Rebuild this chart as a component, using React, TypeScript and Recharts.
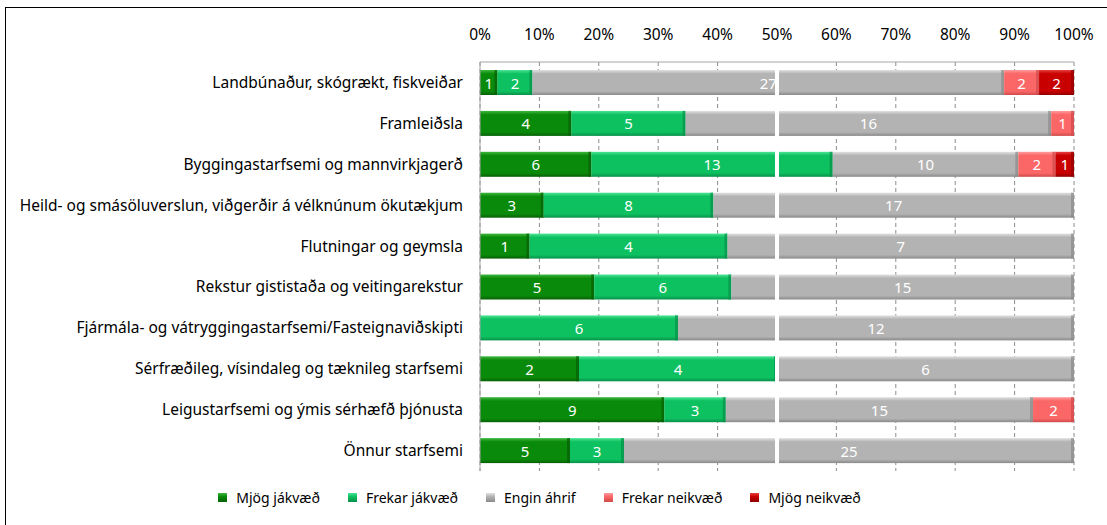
import React from 'react'
import {
  BarChart, Bar, XAxis, YAxis, CartesianGrid, Legend, ReferenceLine
} from 'recharts'

const categories = [
  'Landbúnaður, skógrækt, fiskveiðar',
  'Framleiðsla',
  'Byggingastarfsemi og mannvirkjagerð',
  'Heild- og smásöluverslun, viðgerðir á vélknúnum ökutækjum',
  'Flutningar og geymsla',
  'Rekstur gististaða og veitingarekstur',
  'Fjármála- og vátryggingastarfsemi/Fasteignaviðskipti',
  'Sérfræðileg, vísindaleg og tæknileg starfsemi',
  'Leigustarfsemi og ýmis sérhæfð þjónusta',
  'Önnur starfsemi',
]

const mjogJakvaed = [1, 4, 6, 3, 1, 5, 0, 2, 9, 5]
const frekarJakvaed = [2, 5, 13, 8, 4, 6, 6, 4, 3, 3]
const enginAhrif = [27, 16, 10, 17, 7, 15, 12, 6, 15, 25]
const frekarNeikvaed = [2, 1, 2, 0, 0, 0, 0, 0, 2, 0]
const mjogNeikvaed = [2, 0, 1, 0, 0, 0, 0, 0, 0, 0]

const percentTicks = [0, 0.1, 0.2, 0.3, 0.4, 0.5, 0.6, 0.7, 0.8, 0.9, 1]

const SERIES = [
  { key: 'mj', name: 'Mjög jákvæð', color: '#0a8a0a', light: '#3fb83f', dark: '#066006' },
  { key: 'fj', name: 'Frekar jákvæð', color: '#0dc060', light: '#4de596', dark: '#08914a' },
  { key: 'ea', name: 'Engin áhrif', color: '#b3b3b3', light: '#e2e2e2', dark: '#8a8a8a' },
  { key: 'fn', name: 'Frekar neikvæð', color: '#fb6767', light: '#ff9c9c', dark: '#cf4a4a' },
  { key: 'mn', name: 'Mjög neikvæð', color: '#c80000', light: '#e84040', dark: '#900000' },
]

const data = categories.map((name, i) => ({
  name,
  mj: mjogJakvaed[i],
  fj: frekarJakvaed[i],
  ea: enginAhrif[i],
  fn: frekarNeikvaed[i],
  mn: mjogNeikvaed[i],
}))

const FONT = '"Noto Sans", "Open Sans", sans-serif'
const FS = 15.5

function renderLegend() {
  return (
    <div style={{ height: 46, paddingTop: 6, boxSizing: 'border-box', display: 'flex', justifyContent: 'center', alignItems: 'center', fontFamily: FONT, fontSize: 14, color: '#000' }}>
      {SERIES.map((s, i) => (
        <div key={s.key} style={{ display: 'flex', alignItems: 'center', marginRight: i < SERIES.length - 1 ? 28 : 0 }}>
          <span style={{
            display: 'inline-block', width: 9, height: 9, marginRight: 9,
            background: `linear-gradient(${s.light}, ${s.color} 40%, ${s.dark})`,
          }} />
          <span>{s.name}</span>
        </div>
      ))}
    </div>
  )
}

// bútur með skábrún og fjöldatölu í miðjunni
function makeSegment(s: typeof SERIES[number]) {
  return function Segment(props: any) {
    const { x, y, width, height, payload } = props
    const count = payload ? payload[s.key] : 0
    if (!width || width <= 0) return null
    const edge = Math.min(3, width / 3)
    return (
      <g>
        <rect x={x} y={y} width={width} height={height} fill={`url(#g-${s.key})`} />
        <rect x={x + width - edge} y={y} width={edge} height={height} fill={s.dark} opacity={0.7} />
        {count > 0 && (
          <text
            x={x + width / 2}
            y={y + height / 2}
            textAnchor="middle"
            dominantBaseline="central"
            fill="#fff"
            fontSize={15}
            fontFamily={FONT}
          >
            {count}
          </text>
        )}
      </g>
    )
  }
}

export default function App() {
  return (
    <div style={{ position: 'absolute', left: 0, top: 0, width: 1107, height: 525, overflow: 'hidden', background: '#fff' }}>
      <div style={{ position: 'absolute', left: 5, top: 7, width: 1110, height: 540, border: '1px solid #000' }} />
      <div style={{ position: 'absolute', left: 0, top: 0 }}>
        <BarChart
          width={1107}
          height={525}
          data={data}
          layout="vertical"
          stackOffset="expand"
          margin={{ top: 20, right: 33, bottom: 8, left: 5 }}
          barSize={25}
        >
          <defs>
            {SERIES.map(s => (
              <linearGradient key={s.key} id={`g-${s.key}`} x1="0" y1="0" x2="0" y2="1">
                <stop offset="0%" stopColor={s.light} />
                <stop offset="15%" stopColor={s.color} />
                <stop offset="85%" stopColor={s.color} />
                <stop offset="100%" stopColor={s.dark} />
              </linearGradient>
            ))}
          </defs>
          <CartesianGrid horizontal={false} strokeDasharray="4 3" stroke="#8c8c8c" />
          <XAxis
            type="number"
            orientation="top"
            domain={[0, 1]}
            ticks={percentTicks}
            tickFormatter={v => `${Math.round(v * 100)}%`}
            height={42}
            tickLine={false}
            tickSize={0}
            tickMargin={22}
            axisLine={{ stroke: '#a6a6a6' }}
            tick={{ fontSize: FS, fill: '#000', fontFamily: FONT }}
            interval={0}
          />
          <YAxis
            type="category"
            dataKey="name"
            width={475}
            tickLine={false}
            tickSize={0}
            tickMargin={17}
            axisLine={{ stroke: '#a6a6a6' }}
            tick={{ fontSize: FS, fill: '#000', fontFamily: FONT }}
            interval={0}
          />
          <Legend verticalAlign="bottom" height={46} content={renderLegend} />
          {SERIES.map(s => (
            <Bar
              key={s.key}
              dataKey={s.key}
              name={s.name}
              stackId="a"
              fill={s.color}
              shape={makeSegment(s)}
              isAnimationActive={false}
            />
          ))}
          <ReferenceLine x={0.5} stroke="#fff" strokeWidth={4} />
        </BarChart>
      </div>
    </div>
  )
}
